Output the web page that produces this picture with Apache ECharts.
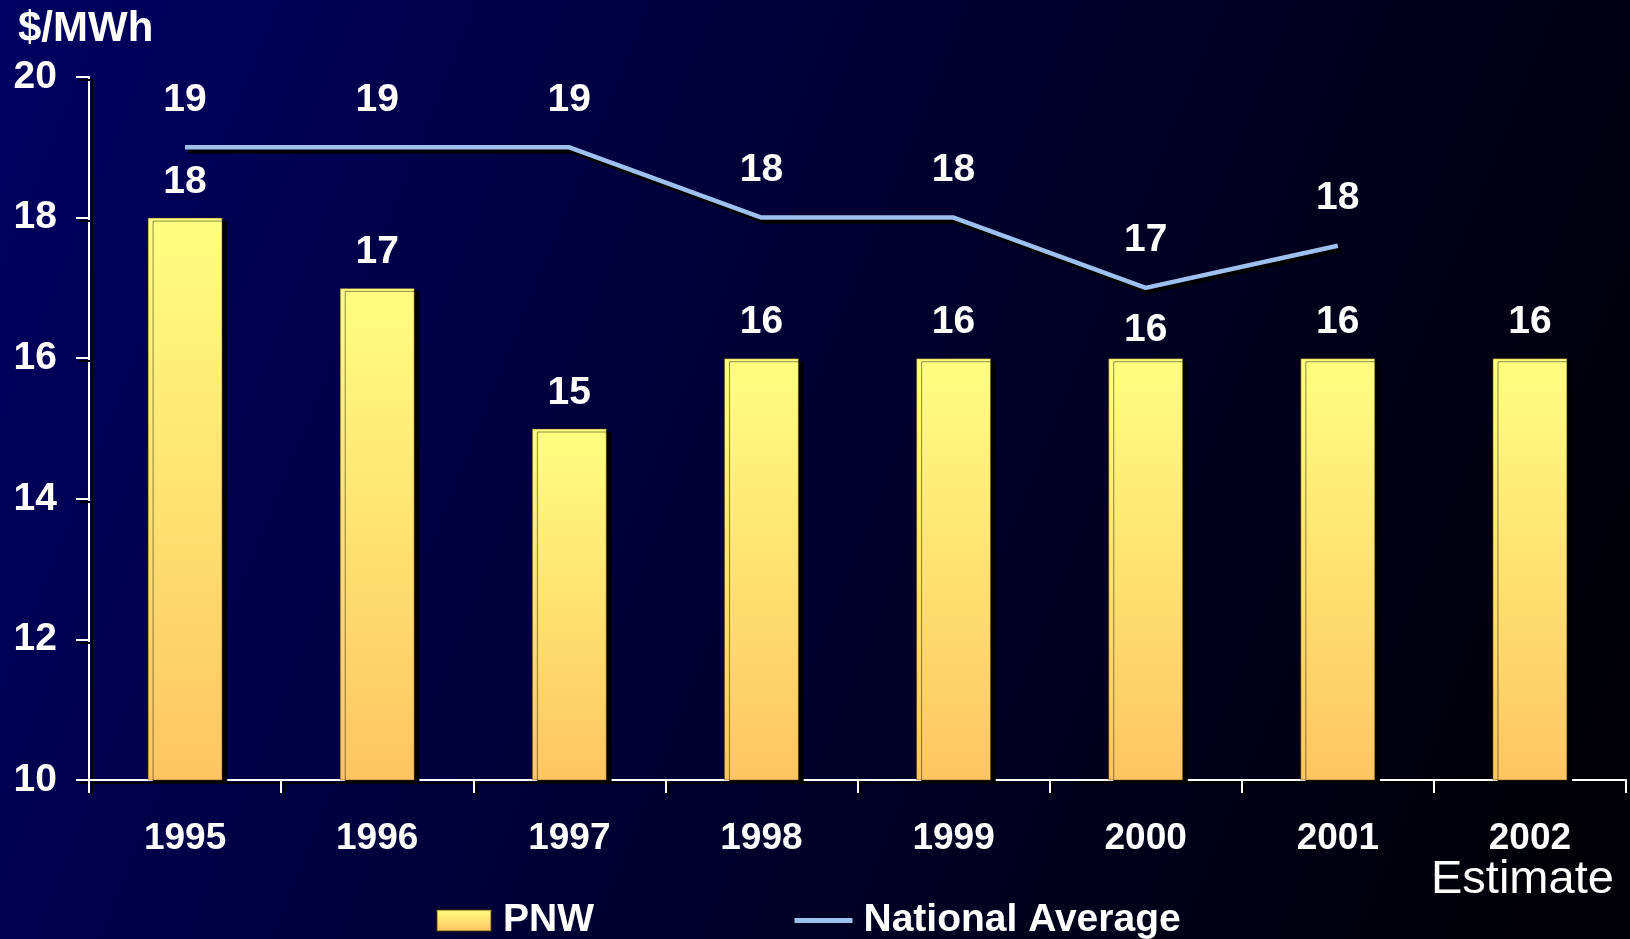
<!DOCTYPE html>
<html>
<head>
<meta charset="utf-8">
<script src="https://cdn.jsdelivr.net/npm/echarts@6/dist/echarts.min.js"></script>
<style>
html,body{margin:0;padding:0;width:100%;height:100%;background:#000020;}
#chart{width:1630px;height:939px;}
</style>
</head>
<body>
<div id="chart"></div>
<script>
var categories = ['1995','1996','1997','1998','1999','2000','2001','2002'];
var pnwValues = [18, 17, 15, 16, 16, 16, 16, 16];
var nationalValues = [19, 19, 19, 18, 18, 17, 17.6, null];
var yTicks = { min: 10, max: 20, interval: 2 };
var unitLabel = '$/MWh';
var noteLabel = 'Estimate';

var FONT = 'Liberation Sans, Arial, sans-serif';
var shadowText = { textShadowColor: '#000', textShadowOffsetX: 3, textShadowOffsetY: 3, textShadowBlur: 0 };

var chart = echarts.init(document.getElementById('chart'));
var barData = pnwValues.map(function (v, i) {
  var d = { value: v };
  if (i === 5) d.label = { distance: 8 };
  return d;
});

var option = {
  animation: false,
  backgroundColor: {
    type: 'linear', x: 0, y: 0, x2: 1, y2: 0.7,
    colorStops: [
      { offset: 0, color: '#000062' },
      { offset: 0.5, color: '#000032' },
      { offset: 1, color: '#000006' }
    ]
  },
  textStyle: { fontFamily: FONT },
  title: {
    text: unitLabel, left: 13, top: 3,
    textStyle: Object.assign({ color: '#fff', fontSize: 42, fontWeight: 'bold', fontFamily: FONT }, shadowText)
  },
  graphic: [{
    type: 'text', left: 1431, top: 857,
    style: { text: noteLabel, fill: '#fff', fontSize: 47, fontFamily: FONT, fontWeight: 'normal' }
  }],
  legend: [{
    data: [{ name: 'PNW', icon: 'rect' }],
    left: 431, top: 896, itemWidth: 54, itemHeight: 21, itemGap: 0,
    textStyle: Object.assign({ color: '#fff', fontSize: 39, fontWeight: 'bold', fontFamily: FONT, padding: [0, 0, 0, 7] }, shadowText)
  }, {
    data: ['National Average'],
    left: 787, top: 896, itemWidth: 58, itemHeight: 21, itemGap: 0,
    lineStyle: { width: 5, color: '#9ec0ee' },
    textStyle: Object.assign({ color: '#fff', fontSize: 39, fontWeight: 'bold', fontFamily: FONT, padding: [0, 0, 0, 6] }, shadowText)
  }],
  grid: { left: 89, right: 4, top: 77, bottom: 159, containLabel: false },
  xAxis: {
    type: 'category', data: categories, boundaryGap: true,
    axisLine: { show: true, lineStyle: { color: '#fff', width: 2, shadowColor: '#000', shadowOffsetX: 3, shadowOffsetY: 3 } },
    axisTick: { show: true, length: 13, lineStyle: { color: '#fff', width: 2, shadowColor: '#000', shadowOffsetX: 3, shadowOffsetY: 3 } },
    axisLabel: Object.assign({ color: '#fff', fontSize: 37, fontWeight: 'bold', fontFamily: FONT, margin: 40 }, shadowText),
    splitLine: { show: false }
  },
  yAxis: {
    type: 'value', min: yTicks.min, max: yTicks.max, interval: yTicks.interval,
    axisLine: { show: true, lineStyle: { color: '#fff', width: 2, shadowColor: '#000', shadowOffsetX: 3, shadowOffsetY: 3 } },
    axisTick: { show: true, length: 13, lineStyle: { color: '#fff', width: 2, shadowColor: '#000', shadowOffsetX: 3, shadowOffsetY: 3 } },
    axisLabel: Object.assign({ color: '#fff', fontSize: 39, fontWeight: 'bold', fontFamily: FONT, margin: 32 }, shadowText),
    splitLine: { show: false }
  },
  series: [{
    name: 'PNW', type: 'bar', data: barData, barWidth: '39%',
    itemStyle: {
      color: {
        type: 'linear', x: 0, y: 0, x2: 0, y2: 1,
        colorStops: [{ offset: 0, color: '#ffff80' }, { offset: 1, color: '#fdc563' }]
      },
      borderColor: 'rgba(90,60,0,0.45)', borderWidth: 1,
      shadowColor: '#000', shadowOffsetX: 5, shadowOffsetY: 3, shadowBlur: 0
    },
    label: Object.assign({ show: true, position: 'top', distance: 16, color: '#fff', fontSize: 39, fontWeight: 'bold', fontFamily: FONT }, shadowText)
  }, {
    name: 'National Average', type: 'line', data: nationalValues, connectNulls: false,
    symbol: 'circle', symbolSize: 2, showSymbol: true,
    itemStyle: { color: 'rgba(0,0,0,0)' },
    lineStyle: { color: '#9ec0ee', width: 4.5, shadowColor: '#000', shadowOffsetX: 3, shadowOffsetY: 4, shadowBlur: 0 },
    label: Object.assign({
      show: true, position: 'top', distance: 27, color: '#fff', fontSize: 39, fontWeight: 'bold', fontFamily: FONT,
      formatter: function (p) { return Math.round(p.value); }
    }, shadowText),
    z: 3
  }]
};
chart.setOption(option);
</script>
</body>
</html>
